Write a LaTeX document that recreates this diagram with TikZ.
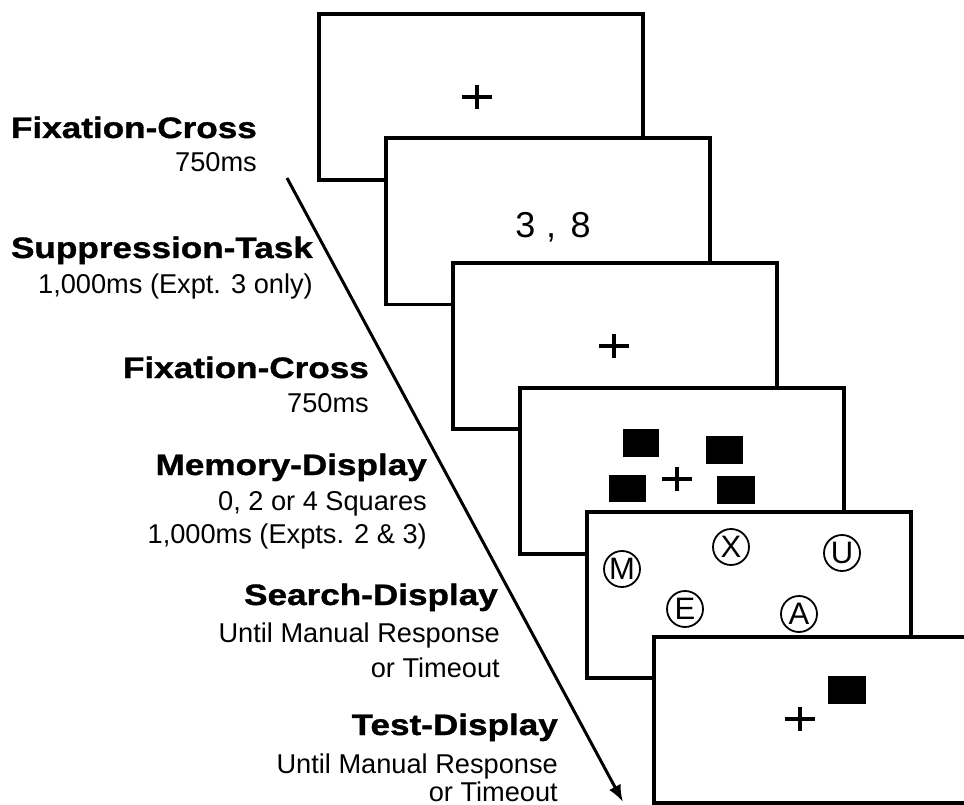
\documentclass[tikz,border=0pt]{standalone}
\usepackage{fontspec}
\setmainfont{Liberation Sans}
\newfontfamily\headfont[FakeStretch=1.19,FakeBold=1.2]{Liberation Sans}
\usetikzlibrary{arrows.meta}
\begin{document}
\begin{tikzpicture}[x=1pt,y=-1pt,
  screen/.style={draw, line width=3.6pt, fill=white, minimum width=324pt, minimum height=166pt, inner sep=0pt, anchor=north west},
  head/.style={anchor=base east, inner sep=0pt, font=\headfont\bfseries\fontsize{29.5}{32}\selectfont},
  sub/.style={anchor=base east, inner sep=0pt, font=\fontsize{27.2}{30}\selectfont},
  sq/.style={fill=black},
  letter/.style={circle, draw, line width=1.8pt, minimum size=36pt, inner sep=0pt, font=\fontsize{31}{32}\selectfont},
  crossline/.style={line width=3.6pt}]
\useasboundingbox (0,0) rectangle (964,805);
\fill[white] (0,0) rectangle (964,805);

% frames
\node[screen] (f1) at (317,12) {};
\draw[crossline] (462,97) -- (492,97) (477,85) -- (477,109);

\node[screen] (f2) at (384,136.5) {};
\node[anchor=base, inner sep=0pt, font=\fontsize{36}{40}\selectfont] (digits) at (553,237) {3\hspace{0.3em},\hspace{0.4em}8};

\node[screen] (f3) at (451,261) {};
\draw[crossline] (599,346) -- (629,346) (614,334) -- (614,358);

\node[screen] (f4) at (518,386) {};
\fill[sq] (623,429) rectangle (659,457);
\fill[sq] (706,436) rectangle (743,464);
\fill[sq] (609,475) rectangle (646,502);
\fill[sq] (717,476) rectangle (755,504);
\draw[crossline] (662,479) -- (692,479) (677,467) -- (677,491);

\node[screen] (f5) at (585,510) {};
\node[letter] (cM) at (622,569) {M};
\node[letter] (cX) at (731,547) {X};
\node[letter] (cU) at (842,553) {U};
\node[letter] (cE) at (685,609) {E};
\node[letter] (cA) at (799,614) {A};

\node[screen] (f6) at (652,635) {};
\fill[sq] (828,676) rectangle (866,704);
\draw[crossline] (785,719) -- (815,719) (800,707) -- (800,731);

% arrow
\coordinate (a1) at (287,178);
\coordinate (a2) at (623,802);
\draw[line width=3pt, -{Latex[length=17pt,width=13pt]}] (a1) -- (a2);

% labels
\node[head] (h1) at (257,138) {Fixation-Cross};
\node[sub] (s1) at (257,172) {750ms};

\node[head] (h2) at (313,258) {Suppression-Task};
\node[sub] (s2) at (313,293) {1,000ms (Expt. 3 only)};

\node[head] (h3) at (369,378) {Fixation-Cross};
\node[sub] (s3) at (369,412) {750ms};

\node[head] (h4) at (427,475) {Memory-Display};
\node[sub] (s4a) at (427,510) {0, 2 or 4 Squares};
\node[sub] (s4b) at (427,543) {1,000ms (Expts. 2 \& 3)};

\node[head] (h5) at (498,605) {Search-Display};
\node[sub] (s5a) at (500,642) {Until Manual Response};
\node[sub] (s5b) at (500,677) {or Timeout};

\node[head] (h6) at (558,735) {Test-Display};
\node[sub] (s6a) at (558,773) {Until Manual Response};
\node[sub] (s6b) at (558,801) {or Timeout};
\end{tikzpicture}
\end{document}
